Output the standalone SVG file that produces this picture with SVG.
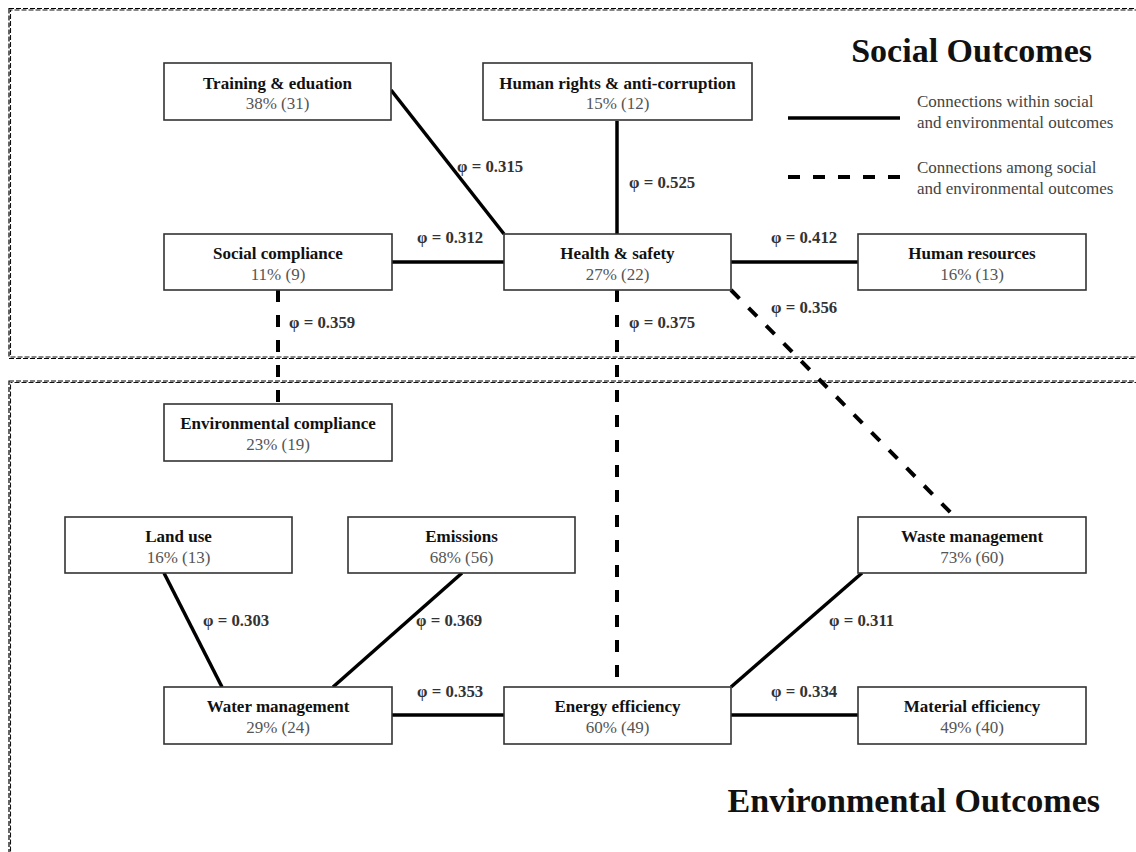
<svg xmlns="http://www.w3.org/2000/svg" width="1136" height="852" viewBox="0 0 1136 852">
  <style>
    .frame { fill: none; stroke: #000; stroke-width: 1.2; stroke-dasharray: 5 2; }
    .frame2 { fill: none; stroke: #111; stroke-width: 1.1; stroke-dasharray: 5 2; stroke-dashoffset: 3; }
    .box { fill: #fff; stroke: #333; stroke-width: 1.6; }
    .name { font-family: "Liberation Serif", "Times New Roman", serif; font-weight: bold; font-size: 17px; fill: #111; text-anchor: middle; }
    .val { font-family: "Liberation Serif", "Times New Roman", serif; font-size: 17px; fill: #555; text-anchor: middle; }
    .phi { font-family: "Liberation Serif", "Times New Roman", serif; font-weight: bold; font-size: 16.8px; fill: #333; }
    .head { font-family: "Liberation Serif", "Times New Roman", serif; font-weight: bold; font-size: 34px; fill: #111; text-anchor: end; }
    .legend { font-family: "Liberation Serif", "Times New Roman", serif; font-size: 17px; fill: #444; }
    .solid { stroke: #000; stroke-width: 3.5; fill: none; }
    .dash { stroke: #000; stroke-width: 4; fill: none; stroke-dasharray: 12 13; }
  </style>

  <rect width="1136" height="852" fill="#fff"/>

  <!-- outcome frames (doubled dashed borders) -->
  <g id="frames">
    <rect class="frame" x="9" y="8.5" width="1140" height="350"/>
    <rect class="frame2" x="10.5" y="10" width="1140" height="347"/>
    <rect class="frame" x="9" y="381" width="1140" height="500"/>
    <rect class="frame2" x="10.5" y="382.5" width="1140" height="500"/>
  </g>

  <text class="head" x="1092" y="62">Social Outcomes</text>
  <text class="head" x="1100" y="812">Environmental Outcomes</text>

  <!-- legend -->
  <g id="legend">
    <line class="solid" x1="788" y1="118" x2="900" y2="118" stroke-width="4"/>
    <line class="dash" x1="788" y1="177" x2="900" y2="177" stroke-width="4"/>
    <text class="legend" x="917" y="107">Connections within social</text>
    <text class="legend" x="917" y="128">and environmental outcomes</text>
    <text class="legend" x="917" y="173">Connections among social</text>
    <text class="legend" x="917" y="194">and environmental outcomes</text>
  </g>

  <!-- connectors -->
  <g id="connectors">
    <line class="solid" x1="391" y1="90" x2="504" y2="234"/>
    <line class="solid" x1="617" y1="121" x2="617" y2="234"/>
    <line class="solid" x1="392" y1="262" x2="504" y2="262"/>
    <line class="solid" x1="731" y1="262" x2="858" y2="262"/>
    <line class="dash" x1="278" y1="290" x2="278" y2="404"/>
    <line class="dash" x1="617" y1="290" x2="617" y2="687"/>
    <line class="dash" x1="731" y1="290" x2="955" y2="517"/>
    <line class="solid" x1="164" y1="573" x2="222" y2="687"/>
    <line class="solid" x1="462" y1="573" x2="333" y2="687"/>
    <line class="solid" x1="392" y1="715" x2="504" y2="715"/>
    <line class="solid" x1="731" y1="715" x2="858" y2="715"/>
    <line class="solid" x1="862" y1="573" x2="731" y2="687"/>

    <text class="phi" x="457" y="172">φ = 0.315</text>
    <text class="phi" x="629" y="188">φ = 0.525</text>
    <text class="phi" x="417" y="243">φ = 0.312</text>
    <text class="phi" x="771" y="243">φ = 0.412</text>
    <text class="phi" x="771" y="313">φ = 0.356</text>
    <text class="phi" x="289" y="328">φ = 0.359</text>
    <text class="phi" x="629" y="328">φ = 0.375</text>
    <text class="phi" x="203" y="626">φ = 0.303</text>
    <text class="phi" x="416" y="626">φ = 0.369</text>
    <text class="phi" x="829" y="626">φ = 0.311</text>
    <text class="phi" x="417" y="697">φ = 0.353</text>
    <text class="phi" x="771" y="697">φ = 0.334</text>
  </g>

  <!-- social outcome nodes -->
  <g id="training">
    <rect class="box" x="164" y="63" width="227" height="57"/>
    <text class="name" x="277.5" y="89">Training &amp; eduation</text>
    <text class="val" x="277.5" y="109">38% (31)</text>
  </g>
  <g id="human-rights">
    <rect class="box" x="483" y="63" width="269" height="57"/>
    <text class="name" x="617.5" y="89">Human rights &amp; anti-corruption</text>
    <text class="val" x="617.5" y="109">15% (12)</text>
  </g>
  <g id="social-compliance">
    <rect class="box" x="164" y="234" width="228" height="56"/>
    <text class="name" x="278" y="259">Social compliance</text>
    <text class="val" x="278" y="280">11% (9)</text>
  </g>
  <g id="health-safety">
    <rect class="box" x="504" y="234" width="227" height="56"/>
    <text class="name" x="617.5" y="259">Health &amp; safety</text>
    <text class="val" x="617.5" y="280">27% (22)</text>
  </g>
  <g id="human-resources">
    <rect class="box" x="858" y="234" width="228" height="56"/>
    <text class="name" x="972" y="259">Human resources</text>
    <text class="val" x="972" y="280">16% (13)</text>
  </g>

  <!-- environmental outcome nodes -->
  <g id="env-compliance">
    <rect class="box" x="164" y="404" width="228" height="57"/>
    <text class="name" x="278" y="429">Environmental compliance</text>
    <text class="val" x="278" y="450">23% (19)</text>
  </g>
  <g id="land-use">
    <rect class="box" x="65" y="517" width="227" height="56"/>
    <text class="name" x="178.5" y="542">Land use</text>
    <text class="val" x="178.5" y="563">16% (13)</text>
  </g>
  <g id="emissions">
    <rect class="box" x="348" y="517" width="227" height="56"/>
    <text class="name" x="461.5" y="542">Emissions</text>
    <text class="val" x="461.5" y="563">68% (56)</text>
  </g>
  <g id="waste">
    <rect class="box" x="858" y="517" width="228" height="56"/>
    <text class="name" x="972" y="542">Waste management</text>
    <text class="val" x="972" y="563">73% (60)</text>
  </g>
  <g id="water">
    <rect class="box" x="164" y="687" width="228" height="57"/>
    <text class="name" x="278" y="712">Water management</text>
    <text class="val" x="278" y="733">29% (24)</text>
  </g>
  <g id="energy">
    <rect class="box" x="504" y="687" width="227" height="57"/>
    <text class="name" x="617.5" y="712">Energy efficiency</text>
    <text class="val" x="617.5" y="733">60% (49)</text>
  </g>
  <g id="material">
    <rect class="box" x="858" y="687" width="228" height="57"/>
    <text class="name" x="972" y="712">Material efficiency</text>
    <text class="val" x="972" y="733">49% (40)</text>
  </g>
</svg>
